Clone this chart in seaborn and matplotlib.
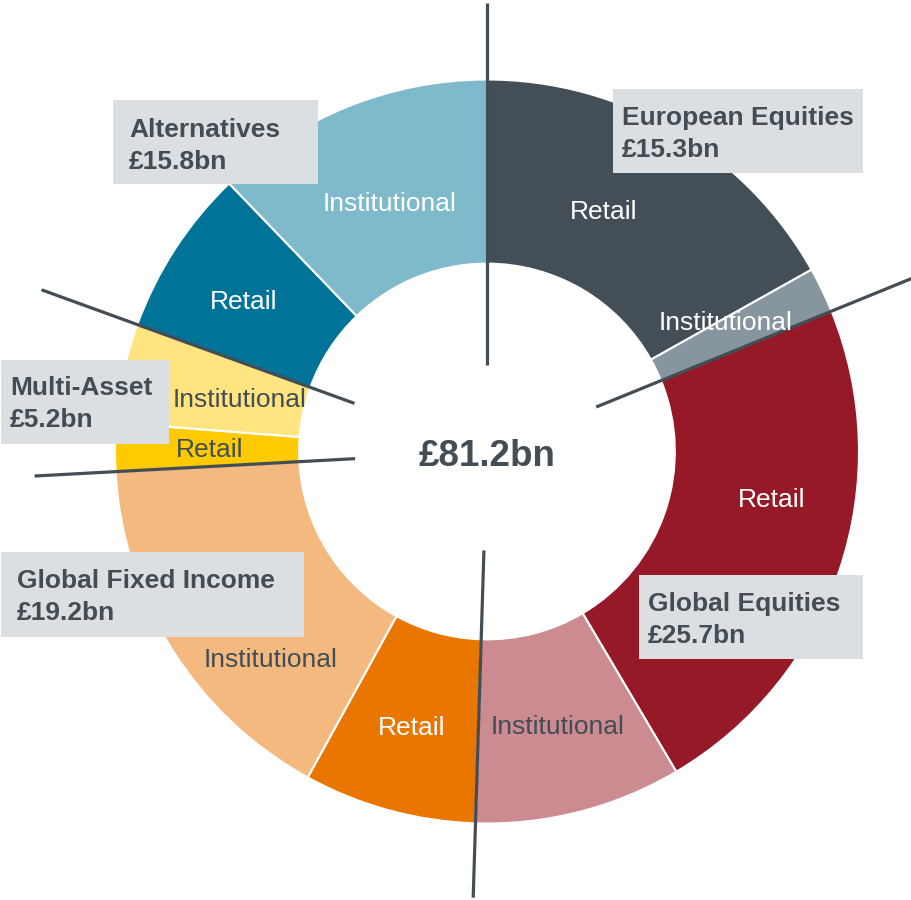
import numpy as np
import matplotlib
matplotlib.use("Agg")
import matplotlib.pyplot as plt
from matplotlib.patches import Rectangle
import seaborn as sns

# data (GBP bn)
categories = ["European Equities", "Global Equities", "Global Fixed Income", "Multi-Asset", "Alternatives"]
totals = [15.3, 25.7, 19.2, 5.2, 15.8]
retail = [13.7, 18.4, 6.1, 1.7, 5.9]
institutional = [1.6, 7.3, 13.1, 3.5, 9.9]
total_label = "£81.2bn"

retail_colors = ["#434e56", "#951927", "#e97600", "#ffcb00", "#007398"]
inst_colors = ["#87969e", "#cc8a91", "#f3b97f", "#ffe480", "#7fb9cc"]
retail_text = ["white", "white", "white", "#434d55", "white"]
inst_text = ["white", "#434d55", "#434d55", "#434d55", "white"]

DARK = "#434d55"
BOX = "#dcdfe2"

sns.set_theme(style="white")
plt.rcParams["font.family"] = ["Liberation Sans", "DejaVu Sans"]

# slices clockwise from 12 o'clock: retail then institutional per category
values, colors, names, tcolors = [], [], [], []
for i in range(len(categories)):
    values += [retail[i], institutional[i]]
    colors += [retail_colors[i], inst_colors[i]]
    names += ["Retail", "Institutional"]
    tcolors += [retail_text[i], inst_text[i]]
palette = sns.color_palette(colors)

fig = plt.figure(figsize=(9.11, 9.0), dpi=100)
ax = fig.add_axes([0, 0, 1, 1])

ax.pie(values, radius=1, startangle=90, counterclock=False, colors=palette,
       wedgeprops=dict(width=0.495, edgecolor="white", linewidth=1.5))

# pixel -> data helper (centre at 487,451.5 ; R = 372 px)
CX, CY, R = 487, 451.5, 372.0
def px(x, y):
    return (x - CX) / R, (CY - y) / R

ax.set_xlim(-CX / R, (911 - CX) / R)
ax.set_ylim(-(900 - CY) / R, CY / R)
ax.set_aspect("auto")
ax.axis("off")

# segment labels near mid angle
grand = sum(values)
label_nudge = [-4.6, -3, -9.4, 0, 0, -11.5, 0, 0, -1.2, 0.7]
label_r = [0.72, 0.73, 0.775, 0.76, 0.765, 0.805, 0.745, 0.68, 0.77, 0.72]
cum = 0
for k, v in enumerate(values):
    mid = (cum + v / 2) / grand * 360 + label_nudge[k]
    cum += v
    th = np.deg2rad(90 - mid)
    ax.text(label_r[k] * np.cos(th), label_r[k] * np.sin(th) - 2 / R, names[k], ha="center",
            va="center", fontsize=19, color=tcolors[k], zorder=9)

# separator lines at category boundaries
line_r0 = [0.233, 0.317, 0.266, 0.355, 0.379]
line_r1 = [1.206, 1.234, 1.2, 1.218, 1.274]
cum = 0
for j, t in enumerate(totals):
    th = np.deg2rad(90 - cum / grand * 360)
    c, s = np.cos(th), np.sin(th)
    ax.plot([line_r0[j] * c, line_r1[j] * c], [line_r0[j] * s, line_r1[j] * s],
            color=DARK, lw=2.3, solid_capstyle="butt", zorder=6)
    cum += t

# callout boxes: (left, top, right, bottom) in px, text left, first baseline
boxes = {
    "European Equities": (613, 89, 863, 173, 622, 125),
    "Global Equities": (639, 575, 863, 659, 648, 611),
    "Global Fixed Income": (1, 552, 304, 637, 17, 588),
    "Multi-Asset": (1, 360, 169, 444, 10, 395),
    "Alternatives": (113, 100, 318, 184, 129, 137),
}
for cat, tot in zip(categories, totals):
    l, t, r_, b, tx, ty = boxes[cat]
    x0, y0 = px(l, b)
    x1, y1 = px(r_, t)
    ax.add_patch(Rectangle((x0, y0), x1 - x0, y1 - y0, facecolor=BOX, edgecolor="none", zorder=7))
    ax.text(*px(tx, ty), cat, ha="left", va="baseline", fontsize=19,
            fontweight="bold", color=DARK, zorder=8)
    ax.text(*px(tx, ty + 32), f"£{tot}bn", ha="left", va="baseline", fontsize=19,
            fontweight="bold", color=DARK, zorder=8)

ax.text(0, px(0, 457)[1], total_label, ha="center", va="center", fontsize=26.5,
        fontweight="bold", color=DARK, zorder=8)

fig.savefig("out.png", dpi=100, facecolor="white")
